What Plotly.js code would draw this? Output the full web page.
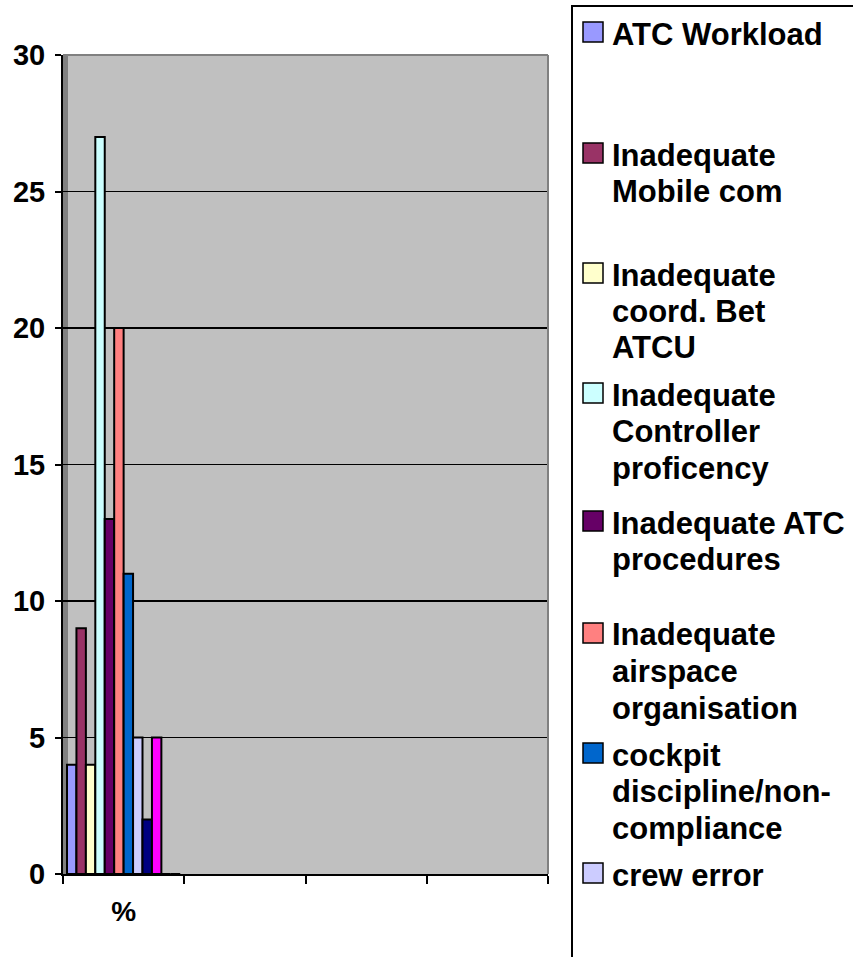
<!DOCTYPE html>
<html>
<head>
<meta charset="utf-8">
<script src="https://cdn.plot.ly/plotly-3.0.1.min.js"></script>
<style>html,body{margin:0;padding:0;background:#fff;}#chart{width:853px;height:957px;}</style>
</head>
<body>
<div id="chart"></div>
<script>
// ---- data ----
const categories = ["%"];
const seriesNames = [
  "ATC Workload",
  "Inadequate<br>Mobile com",
  "Inadequate<br>coord. Bet<br>ATCU",
  "Inadequate<br>Controller<br>proficency",
  "Inadequate ATC<br>procedures",
  "Inadequate<br>airspace<br>organisation",
  "cockpit<br>discipline/non-<br>compliance",
  "crew error",
  "Series 9",
  "Series 10",
  "Series 11",
  "Series 12"
];
const seriesValues = [4, 9, 4, 27, 13, 20, 11, 5, 2, 5, 0, 0];
const seriesColors = ["#9999FF", "#993366", "#FFFFCC", "#CCFFFF", "#660066", "#FF8080",
                      "#0066CC", "#CCCCFF", "#000080", "#FF00FF", "#FFFF00", "#00FFFF"];
const yTickVals = [0, 5, 10, 15, 20, 25, 30];
const legendVisibleCount = 8;
// first-line centre (px) of each visible legend entry
const legendRowY = [32, 153, 273, 393, 521, 633, 753, 873];

// ---- geometry helpers ----
const W = 853, H = 957;
const PL = 63, PR = 548, PT = 55, PB = 874;
const px2x = px => (px - PL) / (PR - PL);
const py2y = py => (PB - py) / (PB - PT);

const FONT = "Arial, 'Liberation Sans', sans-serif";

const traces = seriesNames.map((n, i) => ({
  type: "bar",
  name: n,
  x: [0],
  y: [seriesValues[i]],
  marker: {color: seriesColors[i], line: {color: "#000", width: 2}},
  showlegend: false,
  hoverinfo: "skip"
}));

const shapes = [];
const annotations = [];

// plot-area 3D-ish wall edges
shapes.push({type: "rect", xref: "paper", yref: "paper", layer: "below",
  x0: px2x(63), x1: px2x(68), y0: 0, y1: 1, fillcolor: "#808080", line: {width: 0}});
shapes.push({type: "line", xref: "paper", yref: "paper", layer: "above",
  x0: px2x(63), x1: 1, y0: 1, y1: 1, line: {color: "#808080", width: 2}});
shapes.push({type: "line", xref: "paper", yref: "paper", layer: "above",
  x0: 1, x1: 1, y0: 0, y1: 1, line: {color: "#808080", width: 2}});

// legend box
shapes.push({type: "rect", xref: "paper", yref: "paper",
  x0: px2x(572), x1: px2x(870), y0: py2y(970), y1: py2y(6),
  fillcolor: "rgba(0,0,0,0)", line: {color: "#000", width: 2}});

const lineStep = 36.5;
for (let i = 0; i < legendVisibleCount; i++) {
  const cy = legendRowY[i];
  shapes.push({type: "rect", xref: "paper", yref: "paper",
    x0: px2x(583), x1: px2x(603), y0: py2y(cy + 10), y1: py2y(cy - 10),
    fillcolor: seriesColors[i], line: {color: "#000", width: 1.5}});
  const lines = seriesNames[i].split("<br>");
  lines.forEach((t, k) => {
    annotations.push({xref: "paper", yref: "paper", x: px2x(610), y: py2y(cy + k * lineStep + 2),
      xanchor: "left", yanchor: "middle", showarrow: false,
      text: "<b>" + t + "</b>", font: {family: FONT, size: 31, color: "#000"}});
  });
}

const layout = {
  width: W, height: H,
  margin: {l: PL, r: W - PR, t: PT, b: H - PB, pad: 0},
  paper_bgcolor: "#fff",
  plot_bgcolor: "#C0C0C0",
  barmode: "group",
  bargap: 0.066,
  bargroupgap: 0,
  showlegend: false,
  font: {family: FONT, color: "#000"},
  xaxis: {
    range: [-0.5, 3.5],
    tickvals: [0], ticktext: categories.map(c => "<b>" + c + "</b>"),
    ticks: "", showgrid: false, zeroline: false,
    showline: true, linecolor: "#000", linewidth: 2,
    tickfont: {family: FONT, size: 28, color: "#000"},
    ticklabelstandoff: 11,
    minor: {tickvals: [-0.5, 0.5, 1.5, 2.5, 3.5], ticks: "outside", ticklen: 8,
            tickwidth: 2, tickcolor: "#000", showgrid: false},
    fixedrange: true
  },
  yaxis: {
    range: [0, 30],
    tickvals: yTickVals,
    ticktext: yTickVals.map(v => "<b>" + v + "</b>"),
    ticks: "outside", ticklen: 6, tickwidth: 2, tickcolor: "#000",
    showgrid: true, gridcolor: "#000", gridwidth: 1.5,
    zeroline: false,
    showline: true, linecolor: "#000", linewidth: 2,
    tickfont: {family: FONT, size: 29, color: "#000"},
    ticklabelstandoff: 4,
    fixedrange: true
  },
  shapes: shapes,
  annotations: annotations
};

Plotly.newPlot("chart", traces, layout, {staticPlot: true, displayModeBar: false});
</script>
</body>
</html>
